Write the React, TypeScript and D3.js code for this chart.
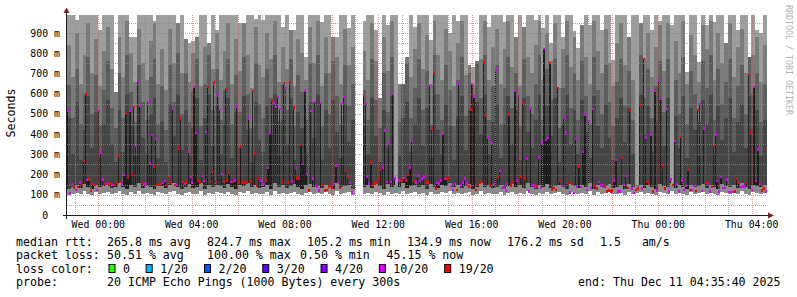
import React from "react";
import * as d3 from "d3";

// ---------- data ----------
const START = Date.UTC(2025, 11, 9, 22, 39, 30);
const SPAN_MS = 30 * 3600 * 1000;
const MED_STEP_MS = 300 * 1000;
const SMOKE_STEP_MS = 600 * 1000;

// median rtt per 5-minute step (ms), null = no data
const medianMs: (number | null)[] = [
  516,108,154,136,125,140,162,150,268,597,
  175,177,120,155,150,125,515,311,177,155,
  155,152,153,148,150,160,292,165,155,200,
  505,184,516,200,536,342,665,539,160,155,
  155,559,256,396,240,378,150,150,155,158,
  170,145,190,162,525,150,150,330,478,165,
  155,162,314,190,162,635,406,170,162,195,
  170,411,635,163,215,656,163,592,520,205,
  165,625,172,210,165,165,172,538,163,
  339,162,160,162,478,163,613,306,145,182,
  172,155,155,172,232,406,564,553,536,585,
  526,162,655,628,162,660,167,533,233,182,
  182,347,253,615,203,123,516,182,559,141,
  122,556,150,123,125,141,145,135,155,245,
  158,135,556,585,218,190,160,113,
  null,null,null,null,null,
  589,549,190,157,260,145,157,162,182,223,
  236,418,165,355,163,599,182,125,172,168,
  172,184,172,198,236,366,168,162,197,
  170,182,190,162,162,638,429,704,132,160,
  157,172,401,180,182,182,145,125,153,125,
  651,147,162,182,157,141,523,648,587,125,
  150,160,165,755,490,381,147,358,155,716,
  188,218,135,135,120,155,498,147,162,615,
  172,589,190,556,182,280,117,528,150,141,
  141,286,135,355,821,372,383,753,128,135,
  125,628,168,145,482,408,160,113,153,110,
  378,138,240,138,314,498,125,467,135,525,
  145,132,163,147,150,138,117,122,117,123,
  172,273,117,117,284,150,195,135,516,132,
  110,125,132,544,133,771,385,165,157,398,
  118,615,122,666,576,243,132,525,117,177,
  150,368,155,117,388,172,125,145,223,125,
  125,145,120,520,549,120,429,162,153,117,
  140,343,400,168,117,190,135,135,177,115,
  115,115,117,178,158,138,141,141,158,692,
  409,125,635,168,325,153,122,132,117,
];

// lost pings (of 20) per 5-minute step
const lossCount: (number | null)[] = [
  8,8,8,14,8,14,8,14,14,14,
  8,14,14,14,14,8,8,8,8,14,
  8,14,14,8,14,14,14,14,8,8,
  14,14,8,14,14,8,8,8,14,8,
  8,8,8,8,14,8,14,14,14,8,
  8,14,14,14,8,14,8,14,14,14,
  8,14,8,8,8,8,8,14,14,8,
  8,8,14,14,14,14,14,8,8,8,
  14,14,14,14,8,14,8,8,14,
  14,14,14,14,8,14,14,14,14,14,
  8,8,8,14,8,8,14,8,8,8,
  8,14,14,8,14,14,8,14,8,14,
  14,14,8,8,8,14,8,8,8,8,
  8,8,14,14,14,14,14,14,8,8,
  8,14,8,8,14,14,8,8,
  null,null,null,null,null,
  14,8,8,8,14,14,14,14,14,14,
  8,8,8,8,8,8,8,1,8,14,
  14,8,14,14,8,8,14,8,8,
  8,8,8,14,14,8,14,14,14,8,
  8,8,8,8,14,14,8,8,8,14,
  8,8,8,8,8,14,14,8,8,14,
  14,14,14,14,14,8,14,8,8,8,
  14,8,8,8,8,8,14,14,14,8,
  8,8,14,14,14,8,8,8,8,8,
  14,8,8,8,8,8,8,14,14,14,
  14,14,14,8,8,8,14,8,14,8,
  8,8,14,8,8,8,8,8,8,8,
  14,14,8,8,8,14,14,14,14,14,
  8,8,8,8,14,8,8,14,14,8,
  8,14,14,14,8,14,8,14,14,8,
  14,8,8,8,8,14,14,8,8,8,
  14,8,8,8,14,8,8,8,14,14,
  8,8,14,14,8,8,8,14,8,8,
  14,14,8,8,8,8,8,8,8,8,
  8,8,14,14,14,8,8,8,14,14,
  14,8,8,8,8,8,14,14,8,
];

// smoke levels per 10-minute step (ms)
const smokeMin: (number | null)[] = [
  98,104,110,102,118,106,100,112,104,108,
  115,102,108,120,104,100,112,106,118,102,
  110,104,100,116,108,102,112,120,106,100,
  108,114,102,106,118,100,110,104,112,108,
  102,116,106,100,112,108,120,104,110,102,
  106,112,100,118,104,110,102,108,114,106,
  100,110,116,104,108,102,112,106,100,118,
  104,108,112,98,null,null,106,110,102,116,
  108,100,114,106,110,104,118,102,108,112,
  104,110,100,116,106,102,112,108,120,104,
  110,102,108,114,100,106,118,104,110,102,
  106,112,100,108,116,104,110,102,118,106,
  100,110,106,114,102,108,112,104,100,116,
  108,102,110,106,118,100,112,104,108,114,
  102,106,110,100,116,104,108,112,102,110,
  106,100,114,108,104,118,102,110,106,100,
  112,104,108,116,102,110,106,100,114,108,
  104,110,102,118,106,100,112,108,104,110,
];
const smokeLow: (number | null)[] = [
  128,140,150,132,155,138,130,146,136,142,
  152,134,140,158,136,130,148,138,156,132,
  144,136,130,154,142,134,148,160,138,130,
  140,152,134,138,156,130,146,136,150,142,
  134,154,138,130,148,142,160,136,146,134,
  138,150,130,156,136,146,134,142,152,138,
  130,146,154,136,142,134,150,138,130,156,
  136,142,150,128,null,null,138,146,134,154,
  142,130,152,138,146,136,156,134,142,150,
  136,146,130,154,138,134,150,142,158,136,
  146,134,142,152,130,138,156,136,146,134,
  138,150,130,142,154,136,146,134,156,138,
  130,146,138,152,134,142,150,136,130,154,
  142,134,146,138,156,130,150,136,142,152,
  134,138,146,130,154,136,142,150,134,146,
  138,130,152,142,136,156,134,146,138,130,
  150,136,142,154,134,146,138,130,152,142,
  136,146,134,156,138,130,150,142,136,146,
];
const smokeDark: (number | null)[] = [
  480,300,560,270,420,590,330,510,280,450,
  570,350,260,520,310,600,440,290,540,380,
  300,500,580,280,460,260,550,390,600,320,
  520,290,430,580,270,480,600,340,540,300,
  450,580,280,510,330,590,420,260,560,370,
  310,540,400,600,290,470,350,580,270,510,
  430,300,560,380,600,270,520,330,570,410,
  280,550,360,470,null,null,440,300,580,390,
  260,520,330,590,150,290,480,560,310,450,
  580,340,530,280,600,420,300,550,440,270,
  490,590,320,520,280,560,400,600,300,460,
  550,280,450,590,350,520,270,580,410,330,
  470,600,300,540,390,580,260,450,600,350,
  520,300,570,410,280,590,440,330,550,380,
  270,480,580,360,530,300,150,600,400,540,
  310,460,570,340,580,150,490,330,590,280,
  530,420,290,570,450,600,300,540,370,480,
  580,310,460,550,330,590,420,520,290,470,
];
const smokeMid: (number | null)[] = [
  650,480,720,450,600,780,500,690,440,620,
  760,530,430,700,480,790,610,460,740,560,
  470,680,770,450,640,420,740,560,800,500,
  700,460,610,770,440,650,790,520,720,470,
  620,770,450,690,510,780,600,430,750,550,
  480,720,580,790,460,650,520,770,440,690,
  610,470,750,560,790,440,700,500,760,590,
  450,740,540,650,null,null,620,470,770,570,
  430,700,510,780,150,460,660,750,480,630,
  770,520,710,450,790,600,470,740,620,440,
  670,780,490,700,450,750,580,790,470,640,
  740,450,630,780,530,700,440,770,590,500,
  650,790,470,720,570,770,430,630,790,530,
  700,470,760,590,450,780,620,500,740,560,
  440,660,770,540,710,470,150,790,580,720,
  480,640,760,510,770,150,670,500,780,450,
  710,600,460,760,630,790,470,720,550,660,
  770,480,640,740,500,780,600,700,460,650,
];
const smokeHigh: (number | null)[] = [
  840,680,900,650,790,950,700,870,640,810,
  930,720,630,880,680,960,800,660,920,750,
  670,860,950,650,820,620,920,750,960,700,
  880,660,800,940,640,830,960,720,900,670,
  810,950,650,870,710,960,790,630,930,740,
  680,900,770,960,660,830,720,950,640,870,
  800,670,930,750,960,640,880,700,940,780,
  650,920,740,830,null,null,810,670,950,760,
  630,880,710,960,150,660,840,930,680,820,
  950,720,890,650,960,790,670,920,810,640,
  850,960,690,880,650,930,770,960,670,830,
  920,650,820,960,730,880,640,950,780,700,
  840,960,670,900,760,950,630,820,960,730,
  880,670,940,780,650,960,810,700,920,750,
  640,850,950,740,890,670,150,960,770,900,
  680,830,940,710,950,150,860,700,960,650,
  890,790,660,940,820,960,670,900,750,850,
  950,680,830,920,700,960,790,880,660,840,
];
const smokeMax: (number | null)[] = [
  989,989,965,989,989,989,989,989,914,989,
  989,989,610,989,989,989,880,880,989,989,
  989,989,960,989,989,989,989,989,950,989,
  870,850,860,880,989,989,850,989,914,989,
  989,989,989,989,950,950,989,989,970,989,
  963,989,989,989,989,930,989,914,914,989,
  989,780,989,989,989,953,989,989,880,880,
  989,989,925,989,null,null,960,989,989,914,
  580,989,940,989,989,650,650,780,989,930,
  989,989,989,865,989,989,989,989,900,989,
  960,989,989,740,730,760,989,989,930,989,
  989,989,955,989,989,880,989,930,989,989,
  965,989,925,989,850,989,989,880,989,989,
  910,825,940,989,940,989,989,914,989,989,
  766,989,989,989,880,989,989,950,989,989,
  914,989,960,989,989,940,989,989,989,708,
  989,989,756,989,940,989,955,989,989,850,
  989,989,914,989,989,780,989,914,900,989,
];

const yTickValues = [0, 100, 200, 300, 400, 500, 600, 700, 800, 900];
const yTickLabels = ["0  ", "100 m", "200 m", "300 m", "400 m", "500 m", "600 m", "700 m", "800 m", "900 m"];

const lossThresholds = [0, 1, 2, 3, 4, 10, 19];
const lossLabels = ["0", "1/20", "2/20", "3/20", "4/20", "10/20", "19/20"];
const lossColors = ["#26ff00", "#00b8ff", "#0059ff", "#5e00ff", "#7e00ff", "#dd00ff", "#ff0000"];

const statRtt = ["median rtt:", "265.8 ms avg", "824.7 ms max", "105.2 ms min", "134.9 ms now", "176.2 ms sd", "1.5   am/s"];
const statLoss = ["packet loss:", "50.51 % avg", "100.00 % max", "0.50 % min", "45.15 % now"];
const probeText = ["probe:", "20 ICMP Echo Pings (1000 Bytes) every 300s", "end: Thu Dec 11 04:35:40 2025"];

// ---------- drawing ----------
const FONT = "'DejaVu Sans Mono', monospace";
const SMOKE_COLORS = ["#8a8a8a", "#454545", "#5d5d5d", "#7a7a7a", "#9e9e9e"];

export default function App() {
  const x = d3.scaleUtc().domain([new Date(START), new Date(START + SPAN_MS)]).range([67, 767]);
  const y = d3.scaleLinear().domain([0, 989]).range([215, 15]);
  const lossColor = (c: number) => {
    const k = lossThresholds.findIndex((t) => c <= t);
    return lossColors[k < 0 ? lossColors.length - 1 : k];
  };

  const smoke: JSX.Element[] = [];
  smokeMin.forEach((lo, j) => {
    const top = smokeMax[j];
    if (lo == null || top == null) return;
    const x0 = x(new Date(START + j * SMOKE_STEP_MS));
    const x1 = x(new Date(START + (j + 1) * SMOKE_STEP_MS));
    const levels = [lo, smokeLow[j]!, smokeDark[j]!, smokeMid[j]!, smokeHigh[j]!, top];
    let prev = lo;
    for (let b = 0; b < 5; b++) {
      const hi = b === 4 ? top : Math.min(Math.max(levels[b + 1], prev), top);
      if (hi > prev) {
        smoke.push(
          <rect key={`s${j}-${b}`} x={x0} width={x1 - x0} y={y(hi)} height={y(prev) - y(hi)} fill={SMOKE_COLORS[b]} />
        );
      }
      prev = Math.max(prev, hi);
    }
  });

  const bars: JSX.Element[] = [];
  const marks: JSX.Element[] = [];
  medianMs.forEach((m, i) => {
    if (m == null) return;
    const x0 = x(new Date(START + i * MED_STEP_MS));
    const x1 = x(new Date(START + (i + 1) * MED_STEP_MS));
    const base = smokeLow[Math.floor(i / 2)] ?? 130;
    if (m > base) {
      bars.push(<rect key={`b${i}`} x={x0} width={1.3} y={y(m)} height={y(base) - y(m)} fill="#1e1e1e" />);
    }
    marks.push(
      <rect key={`m${i}`} x={x0} width={Math.max(2, x1 - x0)} y={y(m) - 1} height={2.4} fill={lossColor(lossCount[i] ?? 20)} />
    );
  });

  const hours = d3.utcHour.range(new Date(START), new Date(START + SPAN_MS));
  const hGrid = d3.range(50, 989, 50);

  const legendItems: JSX.Element[] = [];
  let lx = 108.5;
  lossLabels.forEach((lab, k) => {
    legendItems.push(
      <rect key={`lb${k}`} x={lx + 0.5} y={264.5} width={6} height={8} fill={lossColors[k]} stroke="#000" strokeWidth={1} />
    );
    const tx = lx + 14.5;
    legendItems.push(
      <text key={`lt${k}`} x={tx} y={272.7}>{lab}</text>
    );
    lx = tx + lab.length * 7.05 + 15.6;
  });

  const rttX = [16, 107, 207, 307, 407, 507, 600];
  const lossX = [16, 107, 207, 300, 386.5];

  return (
    <svg width={797} height={297} style={{ display: "block", position: "absolute", left: 0, top: 0, background: "#fff" }}>
      <rect x={0} y={0} width={797} height={297} fill="#fff" />
      <g shapeRendering="crispEdges">
        {smoke}
        {bars}
      </g>
      {/* grid on top of smoke */}
      <g shapeRendering="crispEdges" strokeWidth={1} strokeDasharray="1,1" fill="none">
        {hGrid.map((v) => (
          <line key={`hg${v}`} x1={67} x2={767} y1={Math.round(y(v)) + 0.5} y2={Math.round(y(v)) + 0.5}
            stroke={v % 100 === 0 ? "rgba(222,79,79,0.6)" : "rgba(143,143,143,0.75)"} />
        ))}
        {hours.map((h) => {
          const xx = Math.round(x(h)) + 0.5;
          const major = h.getUTCHours() % 2 === 0;
          return (
            <line key={`vg${+h}`} x1={xx} x2={xx} y1={15} y2={215}
              stroke={major ? "rgba(222,79,79,0.6)" : "rgba(143,143,143,0.75)"} />
          );
        })}
      </g>
      <g shapeRendering="crispEdges">{marks}</g>
      {/* axes */}
      <g shapeRendering="crispEdges">
        <line x1={63} x2={768} y1={215.5} y2={215.5} stroke="#1f1f1f" />
        <line x1={66.5} x2={66.5} y1={219} y2={12} stroke="#1f1f1f" />
      </g>
      <polygon points="768,212.5 774,215.5 768,218.5" fill="#801f1f" />
      <polygon points="63.5,13 66.5,7.5 69.5,13" fill="#801f1f" />
      {/* tick labels */}
      <g fontFamily={FONT} fontSize={9.9} fill="#000">
        {yTickValues.map((v, k) => (
          <text key={`yl${v}`} x={60} y={y(v) + 3.6} textAnchor="end" xmlSpace="preserve">{yTickLabels[k]}</text>
        ))}
        {hours.filter((h) => h.getUTCHours() % 4 === 0).map((h) => (
          <text key={`xl${+h}`} x={x(h)} y={228.3} textAnchor="middle">{d3.utcFormat("%a %H:%M")(h)}</text>
        ))}
      </g>
      <text transform="translate(15,113) rotate(-90)" textAnchor="middle" fontFamily={FONT} fontSize={11.6} fill="#000">Seconds</text>
      <text transform="translate(786,60) rotate(90)" textAnchor="middle" fontFamily={FONT} fontSize={8.3} fill="#b3b3b3">RRDTOOL / TOBI OETIKER</text>
      {/* legend */}
      <g fontFamily={FONT} fontSize={11.6} fill="#000">
        {statRtt.map((s, k) => (<text key={`r${k}`} x={rttX[k]} y={245.5} xmlSpace="preserve">{s}</text>))}
        {statLoss.map((s, k) => (<text key={`p${k}`} x={lossX[k]} y={259.1} xmlSpace="preserve">{s}</text>))}
        <text x={16} y={272.7}>loss color:</text>
        {legendItems}
        <text x={16} y={286.3}>{probeText[0]}</text>
        <text x={107} y={286.3}>{probeText[1]}</text>
        <text x={780.5} y={286.3} textAnchor="end">{probeText[2]}</text>
      </g>
    </svg>
  );
}
